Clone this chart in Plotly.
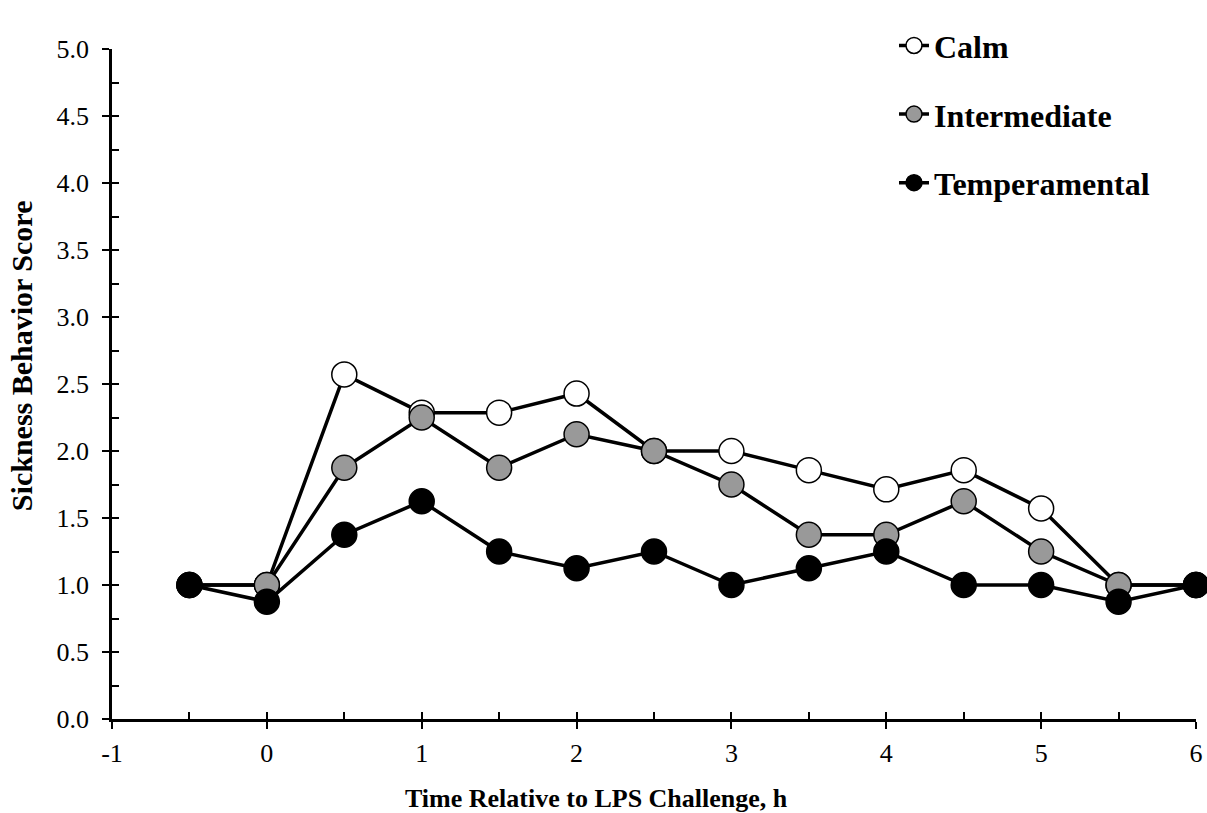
import plotly.graph_objects as go

time_h = [-0.5, 0, 0.5, 1, 1.5, 2, 2.5, 3, 3.5, 4, 4.5, 5, 5.5, 6]
calm = [1.0, 1.0, 2.571, 2.286, 2.286, 2.429, 2.0, 2.0, 1.857, 1.714, 1.857, 1.571, 1.0, 1.0]
intermediate = [1.0, 1.0, 1.875, 2.25, 1.875, 2.125, 2.0, 1.75, 1.375, 1.375, 1.625, 1.25, 1.0, 1.0]
temperamental = [1.0, 0.875, 1.375, 1.625, 1.25, 1.125, 1.25, 1.0, 1.125, 1.25, 1.0, 1.0, 0.875, 1.0]

series_names = ["Calm", "Intermediate", "Temperamental"]
series_values = [calm, intermediate, temperamental]
series_fills = ["#ffffff", "#999999", "#000000"]

x_tick_vals = [-1, 0, 1, 2, 3, 4, 5, 6]
x_tick_text = ["-1", "0", "1", "2", "3", "4", "5", "6"]

FONT = "Liberation Serif"

fig = go.Figure()
for name, vals, fillc in zip(series_names, series_values, series_fills):
    fig.add_trace(go.Scatter(
        x=time_h, y=vals, name=name, mode="lines+markers",
        legendgroup=name,
        line=dict(color="black", width=3.5),
        marker=dict(size=25, color=fillc, line=dict(color="black", width=1.5)),
        cliponaxis=False,
    ))

# dummy trace to hold overlay axes for inside tick marks
fig.add_trace(go.Scatter(x=[None], y=[None], xaxis="x2", yaxis="y2",
                         showlegend=False, hoverinfo="skip"))

fig.update_layout(
    width=1207, height=813,
    margin=dict(l=112, r=11, t=49, b=94, autoexpand=False),
    paper_bgcolor="white", plot_bgcolor="white",
    font=dict(family=FONT, color="black", size=26),
    showlegend=True,
    legend=dict(
        x=0.7214, y=1.046, xanchor="left", yanchor="top",
        font=dict(family=FONT, size=32, color="black", weight="bold"),
        traceorder="grouped", tracegroupgap=24,
        bgcolor="rgba(0,0,0,0)",
    ),
    xaxis=dict(
        range=[-1, 6], tickvals=x_tick_vals, ticktext=x_tick_text,
        ticks="outside", ticklen=7, tickwidth=2, tickcolor="black",
        showline=True, linecolor="black", linewidth=2.5,
        showgrid=False, zeroline=False, automargin=False,
        tickfont=dict(family=FONT, size=26, color="black"),
        ticklabelstandoff=2,
    ),
    yaxis=dict(
        range=[0, 5], dtick=0.5, tick0=0, tickformat=".1f",
        ticks="outside", ticklen=7, tickwidth=2, tickcolor="black",
        showline=True, linecolor="black", linewidth=2.5,
        showgrid=False, zeroline=False, automargin=False,
        tickfont=dict(family=FONT, size=26, color="black"),
        ticklabelstandoff=8,
    ),
    xaxis2=dict(
        range=[-1, 6], dtick=0.5, tick0=0, overlaying="x", anchor="y2", side="bottom",
        ticks="inside", ticklen=7, tickwidth=2, tickcolor="black", automargin=False,
        showticklabels=False, showline=False, showgrid=False, zeroline=False,
    ),
    yaxis2=dict(
        range=[0, 5], dtick=0.25, tick0=0, overlaying="y", anchor="x2", side="left",
        ticks="inside", ticklen=7, tickwidth=2, tickcolor="black", automargin=False,
        showticklabels=False, showline=False, showgrid=False, zeroline=False,
    ),
    annotations=[
        dict(text="<b>Time Relative to LPS Challenge, h</b>", xref="paper", yref="paper",
             x=0.447, y=-0.118, xanchor="center", yanchor="middle", showarrow=False,
             font=dict(family=FONT, size=26, color="black")),
        dict(text="<b>Sickness Behavior Score</b>", xref="paper", yref="paper",
             x=-0.084, y=0.543, xanchor="center", yanchor="middle", showarrow=False,
             textangle=-90, font=dict(family=FONT, size=30, color="black")),
    ],
)

fig.write_html(
    "out.html",
    config={"displayModeBar": False},
    post_script="document.body.style.margin='0';document.body.style.overflow='hidden';",
)
